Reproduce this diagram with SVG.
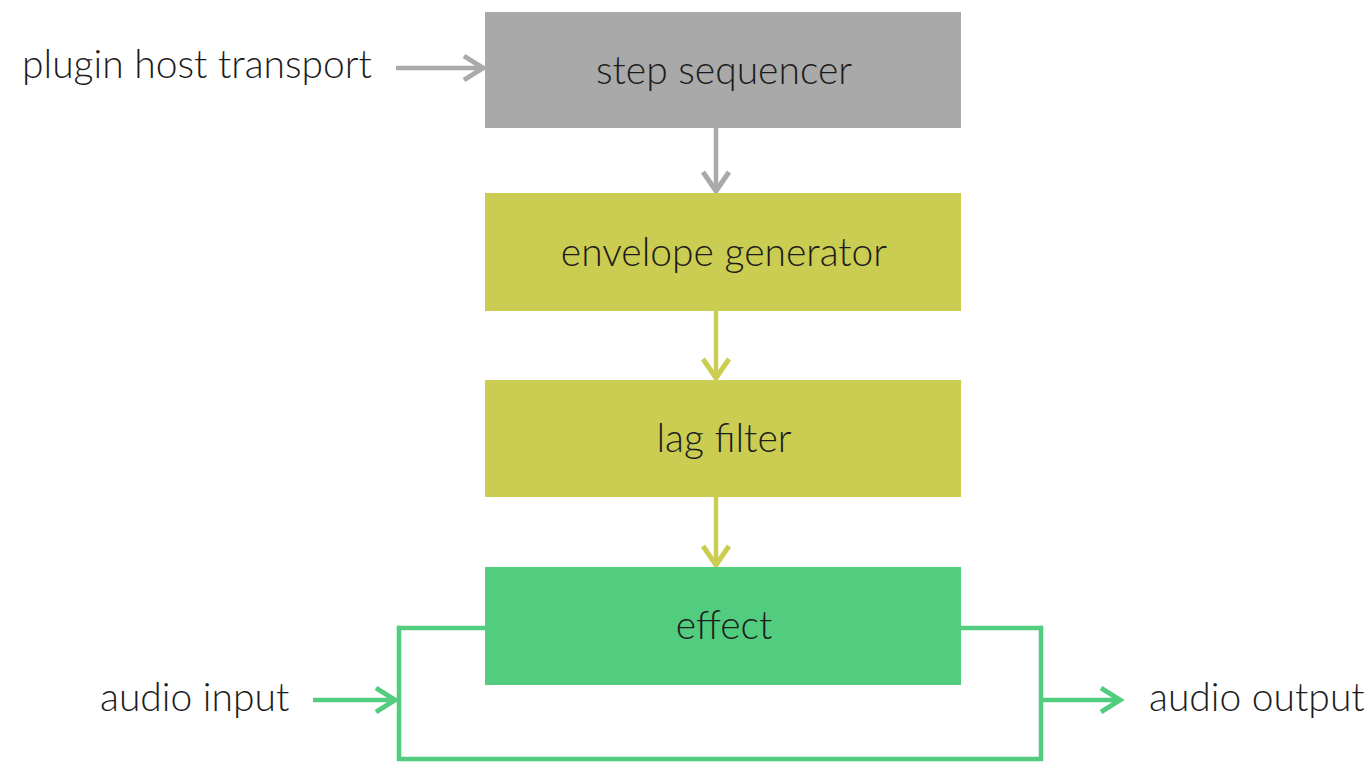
<svg xmlns="http://www.w3.org/2000/svg" width="1372" height="763" viewBox="0 0 1372 763">
  <defs>
    <style>
      .lbl { font-family: Lato, "Open Sans", "Liberation Sans", sans-serif; font-weight: 300; font-size: 39px; fill: #1c1c1c; }
      .mid { text-anchor: middle; }
      .wire { fill: none; stroke-width: 4.5; }
      .head { fill: none; stroke-width: 5; stroke-linecap: butt; stroke-linejoin: miter; }
      .gray { stroke: #aaaaaa; }
      .olive { stroke: #cbcc52; }
      .green { stroke: #52cc7e; }
    </style>
  </defs>
  <rect width="1372" height="763" fill="#ffffff"/>

  <!-- signal paths -->
  <g id="connectors">
    <!-- transport into sequencer -->
    <line class="wire gray" x1="396" y1="68" x2="483" y2="68"/>
    <polyline class="head gray" points="464,56 483,68 464,80"/>
    <!-- sequencer to envelope -->
    <line class="wire gray" x1="716" y1="128" x2="716" y2="191"/>
    <polyline class="head gray" points="703,172 716,191 729,172"/>
    <!-- envelope to lag filter -->
    <line class="wire olive" x1="716" y1="311" x2="716" y2="378"/>
    <polyline class="head olive" points="703,359 716,378 729,359"/>
    <!-- lag filter to effect -->
    <line class="wire olive" x1="716" y1="497" x2="716" y2="565"/>
    <polyline class="head olive" points="703,546 716,565 729,546"/>
    <!-- dry/wet loop around the effect -->
    <polyline class="wire green" points="485,628 399,628 399,759 1041,759 1041,628 961,628"/>
    <!-- audio in -->
    <line class="wire green" x1="313" y1="700" x2="396" y2="700"/>
    <polyline class="head green" points="376,688 395,700 376,712"/>
    <!-- audio out -->
    <line class="wire green" x1="1041" y1="700" x2="1120" y2="700"/>
    <polyline class="head green" points="1101,688 1120,700 1101,712"/>
  </g>

  <g id="step-sequencer">
    <rect x="485" y="12" width="476" height="116" fill="#a9a9a9"/>
    <text class="lbl mid" x="724" y="84">step sequencer</text>
  </g>
  <g id="envelope-generator">
    <rect x="485" y="193" width="476" height="118" fill="#cbcc52"/>
    <text class="lbl mid" x="724" y="266">envelope generator</text>
  </g>
  <g id="lag-filter">
    <rect x="485" y="380" width="476" height="117" fill="#cbcc52"/>
    <text class="lbl mid" x="724" y="452">lag filter</text>
  </g>
  <g id="effect">
    <rect x="485" y="567" width="476" height="118" fill="#52cc7e"/>
    <text class="lbl mid" x="724" y="639">effect</text>
  </g>

  <g id="plugin-host-transport">
    <text class="lbl" x="22" y="78">plugin host transport</text>
  </g>
  <g id="audio-input">
    <text class="lbl" x="100" y="711">audio input</text>
  </g>
  <g id="audio-output">
    <text class="lbl" x="1149" y="711">audio output</text>
  </g>
</svg>
